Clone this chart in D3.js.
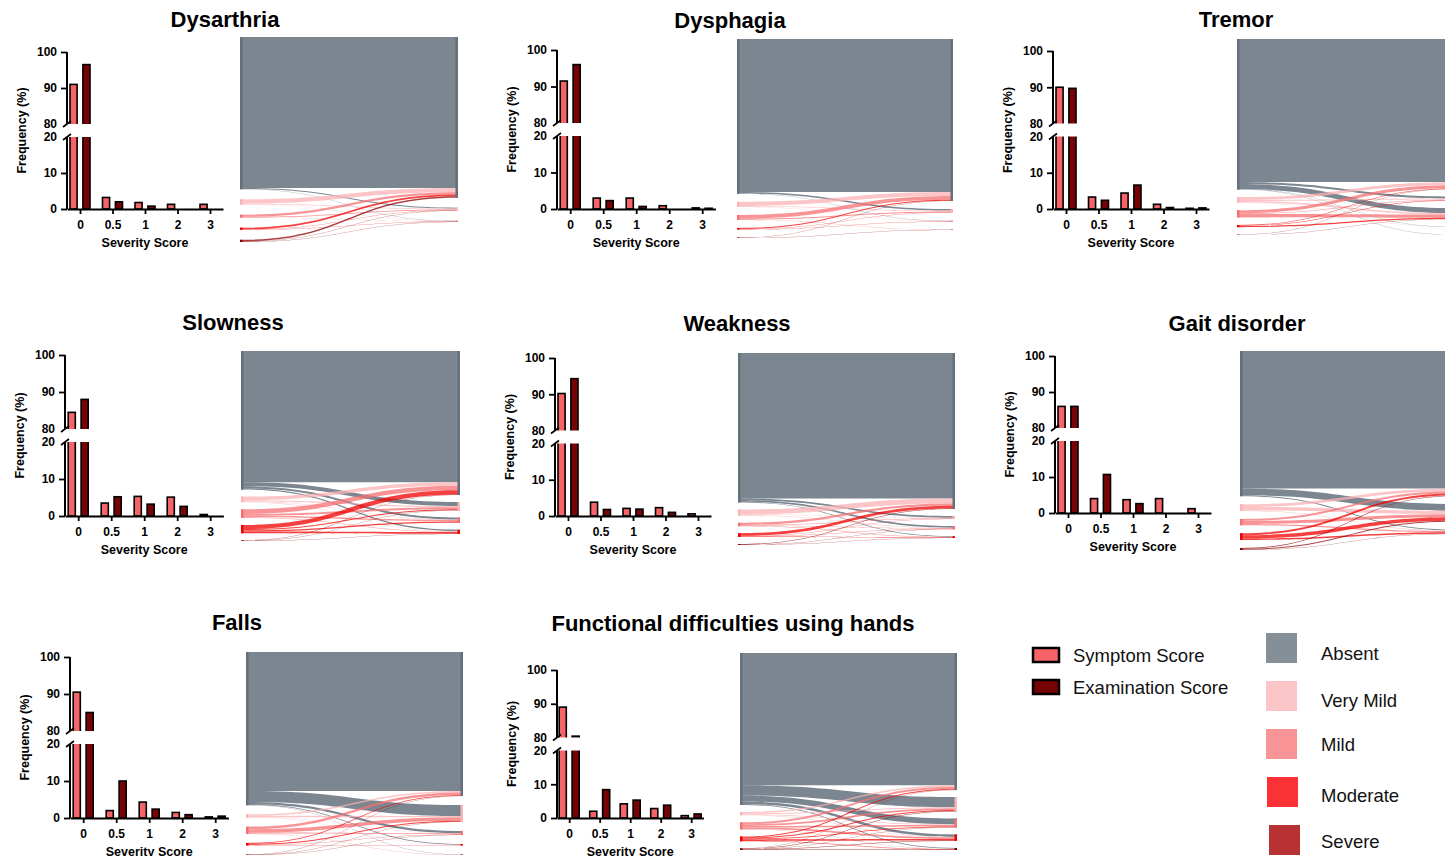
<!DOCTYPE html>
<html>
<head>
<meta charset="utf-8">
<script src="https://cdn.jsdelivr.net/npm/d3@7"></script>
<style>
  body { margin: 0; background: #fff; }
  text { font-family: "Liberation Sans", Arial, sans-serif; }
</style>
</head>
<body>
<div id="chart"></div>
<script>
// ---- data ----
const scoreLabels = ["0", "0.5", "1", "2", "3"];
const severityNames = ["Absent", "Very Mild", "Mild", "Moderate", "Severe"];
const seriesNames = ["Symptom Score", "Examination Score"];
const panelTitles = ["Dysarthria", "Dysphagia", "Tremor", "Slowness", "Weakness",
  "Gait disorder", "Falls", "Functional difficulties using hands"];

// frequency (%) per severity score, one row per panel
const symptomPct = [
  [91.0, 3.2, 1.8, 1.3, 1.3],
  [91.5, 3.0, 3.0, 0.9, 0.3],
  [90.0, 3.3, 4.4, 1.3, 0.2],
  [84.5, 3.5, 5.3, 5.1, 0.4],
  [90.2, 3.8, 2.1, 2.3, 0.6],
  [86.0, 4.0, 3.7, 4.0, 1.2],
  [90.5, 2.0, 4.3, 1.5, 0.3],
  [89.0, 2.0, 4.2, 2.8, 0.7]
];
const examPct = [
  [96.5, 2.0, 0.8, 0.0, 0.0],
  [96.0, 2.3, 0.7, 0.0, 0.2],
  [89.7, 2.4, 6.6, 0.4, 0.3],
  [88.0, 5.2, 3.2, 2.6, 0.0],
  [94.3, 1.8, 1.9, 1.0, 0.0],
  [86.0, 10.7, 2.6, 0.0, 0.0],
  [85.0, 10.0, 2.4, 0.9, 0.5],
  [80.4, 8.4, 5.3, 3.8, 1.2]
];
// symptom category (row) -> examination category (column), %
const transitions = [
  [[90.2, 0.6, 0.2, 0, 0], [2.6, 0.5, 0.1, 0, 0], [1.3, 0.4, 0.1, 0, 0], [1.0, 0.2, 0.1, 0, 0], [0.9, 0.2, 0.2, 0, 0]],
  [[90.4, 0.9, 0.2, 0, 0], [2.4, 0.5, 0.1, 0, 0], [2.2, 0.6, 0.1, 0, 0.1], [0.6, 0.2, 0.1, 0, 0], [0.2, 0, 0, 0, 0.1]],
  [[85.5, 1.2, 3.0, 0.2, 0.1], [1.8, 0.6, 0.8, 0.1, 0], [1.9, 0.4, 2.0, 0.1, 0], [0.4, 0.2, 0.7, 0, 0], [0.1, 0, 0.1, 0, 0]],
  [[80.0, 2.5, 1.2, 0.8, 0], [2.2, 0.8, 0.3, 0.2, 0], [2.8, 1.2, 0.9, 0.4, 0], [2.6, 0.6, 0.8, 1.1, 0], [0.2, 0.1, 0, 0.1, 0]],
  [[87.8, 1.0, 1.0, 0.4, 0], [3.0, 0.4, 0.3, 0.1, 0], [1.4, 0.2, 0.3, 0.2, 0], [1.6, 0.2, 0.2, 0.3, 0], [0.4, 0, 0.1, 0.1, 0]],
  [[81.5, 4.0, 0.5, 0, 0], [1.6, 2.0, 0.4, 0, 0], [1.2, 1.8, 0.7, 0, 0], [1.2, 2.0, 0.8, 0, 0], [0.4, 0.6, 0.2, 0, 0]],
  [[82.0, 6.5, 1.3, 0.5, 0.2], [0.9, 0.8, 0.2, 0.1, 0], [1.5, 2.0, 0.6, 0.1, 0.1], [0.5, 0.6, 0.2, 0.2, 0], [0.1, 0.1, 0.1, 0, 0]],
  [[77.5, 6.0, 3.5, 1.5, 0.5], [0.8, 0.6, 0.4, 0.2, 0], [1.2, 1.0, 0.8, 1.0, 0.2], [0.6, 0.6, 0.5, 0.9, 0.2], [0.2, 0.2, 0.1, 0.2, 0.3]]
];

// ---- styles / layout ----
const barColors = ["#f66468", "#780304"];
const legendColors = ["#858f97", "#fcc6c8", "#f89496", "#fa3236", "#b83234"];
const linkColors = ["#4f5e6b", "#fbb3b6", "#f67073", "#f20000", "#8e0000"];
const nodeColors = ["#65707a", "#fbb3b6", "#f67073", "#f20000", "#8e0000"];

// title pos, bar axis (x, y of 100, y of 0, tick step), sankey box + node padding
const layout = [
  {tx: 225, ty: 27, ax: 67, top: 52, bot: 209, step: 32.5, sx0: 240, sx1: 458, sy0: 37, sy1: 242, pad: 10},
  {tx: 730, ty: 28, ax: 557, top: 50, bot: 209, step: 33, sx0: 737, sx1: 953, sy0: 39, sy1: 238, pad: 8},
  {tx: 1236, ty: 27, ax: 1053, top: 51, bot: 209, step: 32.5, sx0: 1237, sx1: 1456, sy0: 39, sy1: 235, pad: 7.5},
  {tx: 233, ty: 330, ax: 65, top: 355, bot: 516, step: 33, sx0: 241, sx1: 460, sy0: 351, sy1: 541, pad: 7},
  {tx: 737, ty: 331, ax: 555, top: 358, bot: 516, step: 32.5, sx0: 738, sx1: 955, sy0: 353, sy1: 545, pad: 7},
  {tx: 1237, ty: 331, ax: 1055, top: 356, bot: 513, step: 32.5, sx0: 1240, sx1: 1458, sy0: 351, sy1: 550, pad: 8},
  {tx: 237, ty: 630, ax: 70, top: 657, bot: 818, step: 33, sx0: 246, sx1: 463, sy0: 652, sy1: 855, pad: 9},
  {tx: 733, ty: 631, ax: 557, top: 670, bot: 818, step: 30.5, sx0: 740, sx1: 957, sy0: 653, sy1: 850, pad: 7}
];

const W = 1445, H = 856;
const svg = d3.select("#chart").append("svg")
  .attr("width", W).attr("height", H);

function drawBars(g, sym, exam, L) {
  const gap = 13;
  const h = (L.bot - L.top - gap) / 2;
  // broken axis: 0-20 below, 80-100 above
  const y = d3.scaleLinear()
    .domain([0, 20, 80, 100])
    .range([L.bot, L.bot - h, L.top + h, L.top]);
  const width = L.step * 4.8;
  const x = d3.scalePoint().domain(scoreLabels)
    .range([L.ax, L.ax + width]).padding(0.4);
  const inner = d3.scaleBand().domain([0, 1]).range([-10, 10]).paddingInner(0.45);

  const rows = scoreLabels.map((s, i) => ({s: s, vals: [sym[i], exam[i]]}));
  const grp = g.selectAll("g.cat").data(rows).enter().append("g")
    .attr("transform", d => "translate(" + x(d.s) + ",0)");
  grp.selectAll("rect").data(d => d.vals).enter().append("rect")
    .attr("x", (d, i) => inner(i))
    .attr("width", inner.bandwidth())
    .attr("y", d => y(d))
    .attr("height", d => L.bot - y(d))
    .style("fill", (d, i) => barColors[i])
    .style("stroke", "#000")
    .style("stroke-width", 1.6);

  // white gap over the bars
  g.append("rect")
    .attr("x", L.ax + 1).attr("y", y(80))
    .attr("width", width).attr("height", y(20) - y(80))
    .style("fill", "#fff");

  const yAxis = g.append("g")
    .attr("transform", "translate(" + L.ax + ",0)")
    .call(d3.axisLeft(y).tickValues([0, 10, 20, 80, 90, 100]).tickSize(6).tickPadding(4));
  yAxis.select(".domain").remove();
  yAxis.selectAll(".tick line").style("stroke-width", 1.8)
    .filter(d => d == 20 || d == 80).remove();
  yAxis.selectAll(".tick text")
    .style("font-size", "12px").style("font-weight", "bold")
    .style("font-family", "Liberation Sans, Arial, sans-serif");

  [[y(100), y(80)], [y(20), y(0)]].forEach(seg => {
    g.append("line")
      .attr("x1", L.ax).attr("x2", L.ax)
      .attr("y1", seg[0]).attr("y2", seg[1])
      .style("stroke", "#000").style("stroke-width", 2);
  });
  [y(80), y(20)].forEach(yy => {
    g.append("line")
      .attr("x1", L.ax - 4).attr("y1", yy + 3)
      .attr("x2", L.ax + 4).attr("y2", yy - 3)
      .style("stroke", "#000").style("stroke-width", 1.6);
  });

  const xAxis = g.append("g")
    .attr("transform", "translate(0," + L.bot + ")")
    .call(d3.axisBottom(x).tickSize(5).tickPadding(6).tickSizeOuter(0));
  xAxis.select(".domain").style("stroke-width", 2);
  xAxis.selectAll(".tick line").style("stroke-width", 1.8);
  xAxis.selectAll(".tick text")
    .style("font-size", "12px").style("font-weight", "bold")
    .style("font-family", "Liberation Sans, Arial, sans-serif");

  g.append("text")
    .text("Severity Score")
    .attr("x", L.ax + width / 2).attr("y", L.bot + 38)
    .attr("text-anchor", "middle")
    .style("font-size", "12.5px").style("font-weight", "bold");

  g.append("text")
    .text("Frequency (%)")
    .attr("text-anchor", "middle")
    .attr("transform", "translate(" + (L.ax - 41) + "," + ((L.top + L.bot) / 2) + ") rotate(-90)")
    .style("font-size", "12.5px").style("font-weight", "bold");
}

function drawSankey(g, M, L) {
  const pad = L.pad;
  const n = severityNames.length;
  const leftVal = d3.range(n).map(i => d3.sum(M[i]));
  const rightVal = d3.range(n).map(j => d3.sum(M, r => r[j]));
  const leftIdx = d3.range(n).filter(i => leftVal[i] > 0);
  const rightIdx = d3.range(n).filter(j => rightVal[j] > 0);
  const span = L.sy1 - L.sy0;
  const k = Math.min(
    (span - pad * (leftIdx.length - 1)) / d3.sum(leftVal),
    (span - pad * (rightIdx.length - 1)) / d3.sum(rightVal));

  const ly = [], ry = [];
  let cy = L.sy0;
  leftIdx.forEach(i => { ly[i] = cy; cy += leftVal[i] * k + pad; });
  cy = L.sy0;
  rightIdx.forEach(j => { ry[j] = cy; cy += rightVal[j] * k + pad; });

  // link offsets: outgoing sorted by target, incoming sorted by source
  const links = [];
  const outOff = ly.slice(), inOff = ry.slice();
  for (let i = 0; i < n; i++) {
    for (let j = 0; j < n; j++) {
      if (M[i][j] > 0) links.push({s: i, t: j, v: M[i][j]});
    }
  }
  links.forEach(l => { l.sy = outOff[l.s]; outOff[l.s] += l.v * k; });
  links.slice().sort((a, b) => a.t - b.t || a.s - b.s)
    .forEach(l => { l.ty = inOff[l.t]; inOff[l.t] += l.v * k; });

  const x0 = L.sx0, x1 = L.sx1, xm = (x0 + x1) / 2;
  g.selectAll("path.link").data(links).enter().append("path")
    .attr("class", "link")
    .attr("d", l => {
      const w = l.v * k;
      return "M" + x0 + "," + l.sy +
        "C" + xm + "," + l.sy + " " + xm + "," + l.ty + " " + x1 + "," + l.ty +
        "L" + x1 + "," + (l.ty + w) +
        "C" + xm + "," + (l.ty + w) + " " + xm + "," + (l.sy + w) + " " + x0 + "," + (l.sy + w) + "Z";
    })
    .style("fill", l => linkColors[l.s])
    .style("fill-opacity", 0.75);

  g.selectAll("rect.lnode").data(leftIdx).enter().append("rect")
    .attr("x", x0).attr("width", 2.5)
    .attr("y", i => ly[i]).attr("height", i => leftVal[i] * k)
    .style("fill", i => nodeColors[i]);
  g.selectAll("rect.rnode").data(rightIdx).enter().append("rect")
    .attr("x", x1 - 2.5).attr("width", 2.5)
    .attr("y", j => ry[j]).attr("height", j => rightVal[j] * k)
    .style("fill", j => nodeColors[j]);
}

panelTitles.forEach((title, p) => {
  const L = layout[p];
  const g = svg.append("g");
  drawSankey(g.append("g"), transitions[p], L);
  drawBars(g.append("g"), symptomPct[p], examPct[p], L);
  g.append("text")
    .text(title)
    .attr("x", L.tx).attr("y", L.ty)
    .attr("text-anchor", "middle")
    .style("font-size", "22px").style("font-weight", "bold");
});

// legend: bar series
const lg1 = svg.append("g");
seriesNames.forEach((name, i) => {
  lg1.append("rect")
    .attr("x", 1033).attr("y", 648 + i * 32)
    .attr("width", 26).attr("height", 14)
    .style("fill", barColors[i])
    .style("stroke", "#000").style("stroke-width", 2.5);
  lg1.append("text")
    .text(name)
    .attr("x", 1073).attr("y", 662 + i * 32)
    .style("font-size", "18.5px").style("fill", "#111");
});

// legend: severity categories
const catY = [633, 681, 729, 777, 825];
const catX = [1266, 1266, 1266, 1267, 1269];
const catTextY = [660, 707, 751, 802, 848];
const lg2 = svg.append("g");
severityNames.forEach((name, i) => {
  lg2.append("rect")
    .attr("x", catX[i]).attr("y", catY[i])
    .attr("width", 31).attr("height", 30)
    .style("fill", legendColors[i]);
  lg2.append("text")
    .text(name)
    .attr("x", 1321).attr("y", catTextY[i])
    .style("font-size", "18.5px").style("fill", "#111");
});
</script>
</body>
</html>
